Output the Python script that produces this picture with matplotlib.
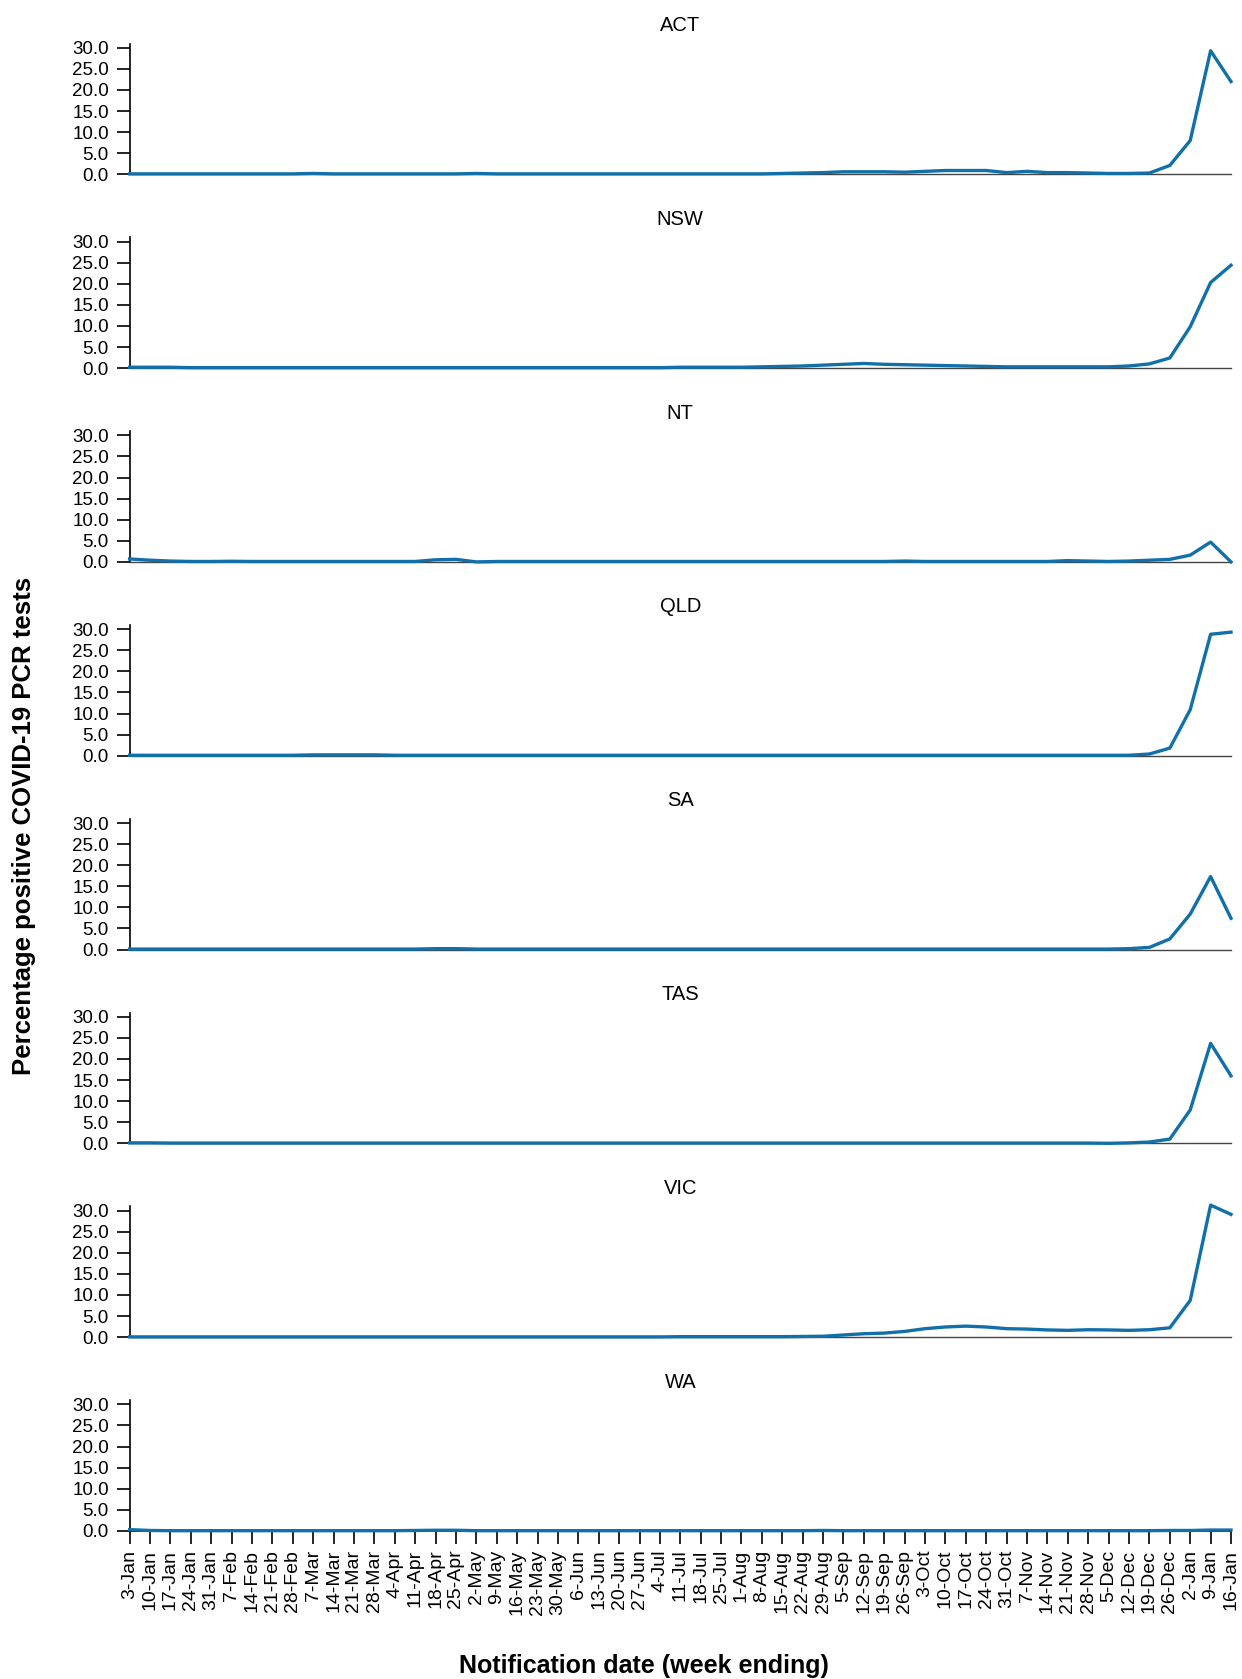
#!/usr/bin/env python3
"""Small multiples: percentage positive COVID-19 PCR tests by state, weekly."""

import matplotlib
matplotlib.use("Agg")
import matplotlib.pyplot as plt
from matplotlib.ticker import FormatStrFormatter

plt.rcParams["font.family"] = ["Liberation Sans", "Arial", "DejaVu Sans"]

# Week ending dates (x-axis tick labels)
weeks = [
    "3-Jan", "10-Jan", "17-Jan", "24-Jan", "31-Jan", "7-Feb", "14-Feb",
    "21-Feb", "28-Feb", "7-Mar", "14-Mar", "21-Mar", "28-Mar", "4-Apr",
    "11-Apr", "18-Apr", "25-Apr", "2-May", "9-May", "16-May", "23-May",
    "30-May", "6-Jun", "13-Jun", "20-Jun", "27-Jun", "4-Jul", "11-Jul",
    "18-Jul", "25-Jul", "1-Aug", "8-Aug", "15-Aug", "22-Aug", "29-Aug",
    "5-Sep", "12-Sep", "19-Sep", "26-Sep", "3-Oct", "10-Oct", "17-Oct",
    "24-Oct", "31-Oct", "7-Nov", "14-Nov", "21-Nov", "28-Nov", "5-Dec",
    "12-Dec", "19-Dec", "26-Dec", "2-Jan", "9-Jan", "16-Jan",
]

states = ["ACT", "NSW", "NT", "QLD", "SA", "TAS", "VIC", "WA"]

# Percentage positive
act = [
    0.1, 0.1, 0.1, 0.1, 0.1, 0.1, 0.1, 0.1, 0.1, 0.2, 0.1, 0.1, 0.1, 0.1,
    0.1, 0.1, 0.1, 0.2, 0.1, 0.1, 0.1, 0.1, 0.1, 0.1, 0.1, 0.1, 0.1, 0.1,
    0.1, 0.1, 0.1, 0.1, 0.2, 0.3, 0.4, 0.6, 0.6, 0.6, 0.5, 0.7, 0.9, 0.9,
    0.9, 0.4, 0.7, 0.4, 0.4, 0.3, 0.2, 0.2, 0.3, 2.1, 8.0, 29.3, 22.0,
]
nsw = [
    0.2, 0.2, 0.2, 0.1, 0.1, 0.1, 0.1, 0.1, 0.1, 0.1, 0.1, 0.1, 0.1, 0.1,
    0.1, 0.1, 0.1, 0.1, 0.1, 0.1, 0.1, 0.1, 0.1, 0.1, 0.1, 0.1, 0.1, 0.2,
    0.2, 0.2, 0.2, 0.3, 0.4, 0.5, 0.7, 0.9, 1.1, 0.9, 0.8, 0.7, 0.6, 0.5,
    0.4, 0.3, 0.3, 0.3, 0.3, 0.3, 0.3, 0.5, 1.0, 2.4, 9.8, 20.3, 24.4,
]
nt = [
    0.7, 0.4, 0.2, 0.1, 0.1, 0.15, 0.1, 0.1, 0.1, 0.1, 0.1, 0.1, 0.1, 0.1,
    0.1, 0.5, 0.6, 0.0, 0.1, 0.1, 0.1, 0.1, 0.1, 0.1, 0.1, 0.1, 0.1, 0.1,
    0.1, 0.1, 0.1, 0.1, 0.1, 0.1, 0.1, 0.1, 0.1, 0.1, 0.2, 0.1, 0.1, 0.1,
    0.1, 0.1, 0.1, 0.1, 0.3, 0.2, 0.1, 0.2, 0.4, 0.6, 1.6, 4.7, 0.0,
]
qld = [
    0.1, 0.1, 0.1, 0.1, 0.1, 0.1, 0.1, 0.1, 0.1, 0.2, 0.2, 0.2, 0.2, 0.1,
    0.1, 0.1, 0.1, 0.1, 0.1, 0.1, 0.1, 0.1, 0.1, 0.1, 0.1, 0.1, 0.1, 0.1,
    0.1, 0.1, 0.1, 0.1, 0.1, 0.1, 0.1, 0.1, 0.1, 0.1, 0.1, 0.1, 0.1, 0.1,
    0.1, 0.1, 0.1, 0.1, 0.1, 0.1, 0.1, 0.1, 0.4, 1.8, 10.9, 28.8, 29.3,
]
sa = [
    0.1, 0.1, 0.1, 0.1, 0.1, 0.1, 0.1, 0.1, 0.1, 0.1, 0.1, 0.1, 0.1, 0.1,
    0.1, 0.2, 0.2, 0.1, 0.1, 0.1, 0.1, 0.1, 0.1, 0.1, 0.1, 0.1, 0.1, 0.1,
    0.1, 0.1, 0.1, 0.1, 0.1, 0.1, 0.1, 0.1, 0.1, 0.1, 0.1, 0.1, 0.1, 0.1,
    0.1, 0.1, 0.1, 0.1, 0.1, 0.1, 0.1, 0.2, 0.5, 2.5, 8.4, 17.3, 7.4,
]
tas = [
    0.1, 0.1, 0.05, 0.05, 0.05, 0.05, 0.05, 0.05, 0.05, 0.05, 0.05, 0.05,
    0.05, 0.05, 0.05, 0.05, 0.05, 0.05, 0.05, 0.05, 0.05, 0.05, 0.05, 0.05,
    0.05, 0.05, 0.05, 0.05, 0.05, 0.05, 0.05, 0.05, 0.05, 0.05, 0.05, 0.05,
    0.05, 0.05, 0.05, 0.05, 0.05, 0.05, 0.05, 0.05, 0.05, 0.05, 0.05, 0.05,
    0.0, 0.1, 0.3, 1.0, 7.9, 23.7, 16.0,
]
vic = [
    0.05, 0.05, 0.05, 0.05, 0.05, 0.05, 0.05, 0.05, 0.05, 0.05, 0.05, 0.05,
    0.05, 0.05, 0.05, 0.05, 0.05, 0.05, 0.05, 0.05, 0.05, 0.05, 0.05, 0.05,
    0.05, 0.05, 0.05, 0.1, 0.1, 0.1, 0.1, 0.1, 0.1, 0.15, 0.2, 0.5, 0.8,
    0.95, 1.35, 2.0, 2.4, 2.6, 2.4, 2.0, 1.9, 1.7, 1.6, 1.75, 1.7, 1.6,
    1.75, 2.2, 8.7, 31.3, 29.1,
]
wa = [
    0.3, 0.1, 0.05, 0.05, 0.05, 0.05, 0.05, 0.05, 0.05, 0.05, 0.05, 0.05,
    0.05, 0.05, 0.1, 0.15, 0.15, 0.05, 0.05, 0.05, 0.05, 0.05, 0.05, 0.05,
    0.05, 0.05, 0.05, 0.05, 0.05, 0.05, 0.05, 0.05, 0.05, 0.05, 0.1, 0.05,
    0.05, 0.05, 0.05, 0.05, 0.05, 0.05, 0.05, 0.05, 0.05, 0.05, 0.05, 0.05,
    0.05, 0.05, 0.05, 0.1, 0.1, 0.2, 0.2,
]

series = [act, nsw, nt, qld, sa, tas, vic, wa]

LINE_COLOR = "#1170aa"
W, H = 1242, 1679


def main():
    fig = plt.figure(figsize=(W / 100, H / 100), dpi=100)

    left_px, right_px = 129.6, 1231.0
    zero_px0, step_px = 174.3, 193.8
    px_per_unit = 126.5 / 30
    ymax = 31
    height_px = px_per_unit * ymax

    x = list(range(len(weeks)))
    n = len(states)
    for i, (name, vals) in enumerate(zip(states, series)):
        zero_px = zero_px0 + i * step_px
        ax = fig.add_axes([
            left_px / W,
            1 - zero_px / H,
            (right_px - left_px) / W,
            height_px / H,
        ])
        ax.plot(x, vals, color=LINE_COLOR, lw=2.4, zorder=3, clip_on=False)
        ax.set_xlim(0, len(weeks) - 1)
        ax.set_ylim(0, ymax)
        ax.set_yticks([0, 5, 10, 15, 20, 25, 30])
        ax.yaxis.set_major_formatter(FormatStrFormatter("%.1f"))
        ax.set_title(name, fontsize=14.5, pad=9)

        for side in ("top", "right"):
            ax.spines[side].set_visible(False)
        ax.spines["left"].set_linewidth(1.2)
        ax.tick_params(axis="y", length=9.5, width=1.2, pad=5.5,
                       labelsize=13.5)

        if i < n - 1:
            ax.spines["bottom"].set_color("#444444")
            ax.spines["bottom"].set_linewidth(1.0)
            ax.set_xticks([])
        else:
            ax.spines["bottom"].set_linewidth(1.2)
            ax.set_xticks(x)
            ax.set_xticklabels(weeks, rotation=90)
            ax.tick_params(axis="x", length=9, width=1.2, pad=4.5,
                           labelsize=14)

    fig.text(0.019, 1 - 826 / H, "Percentage positive COVID-19 PCR tests",
             rotation=90, ha="center", va="center", fontsize=18.5,
             fontweight="bold")
    fig.text(644 / W, 1 - 1666 / H, "Notification date (week ending)",
             ha="center", va="center", fontsize=18, fontweight="bold")

    fig.savefig("out.png", dpi=100)


if __name__ == "__main__":
    main()
